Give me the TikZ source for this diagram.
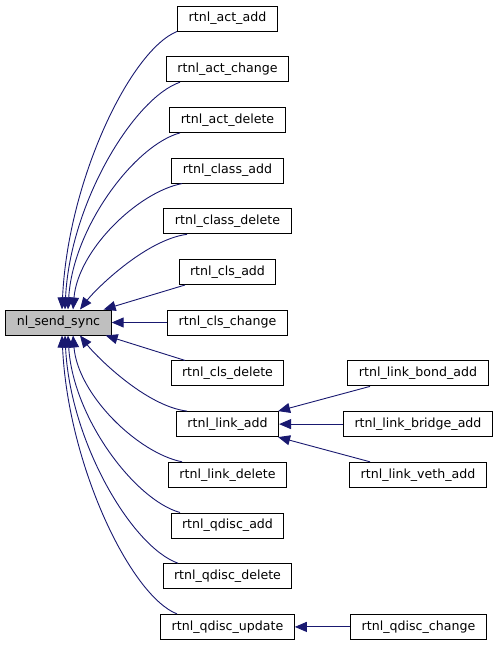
\documentclass[tikz,border=0pt]{standalone}
\usepackage{fontspec}
\setmainfont{DejaVu Sans}
\usetikzlibrary{arrows.meta}
\definecolor{edgeblue}{HTML}{191970}
\definecolor{maingrey}{HTML}{BFBFBF}
\begin{document}
\begin{tikzpicture}[x=1pt,y=-1pt,
  fn/.style={draw=black,line width=1pt,fill=white,inner xsep=11pt,inner ysep=0pt,
    minimum height=25pt,font=\fontsize{12.6}{15}\selectfont},
  edge/.style={draw=edgeblue,line width=0.9pt,
    {Triangle[length=12pt,width=10pt]}-}]
\useasboundingbox (0,0) rectangle (499,645);
\node[fn,fill=maingrey] (main) at (58.5,322.5) {nl\_send\_sync};
\node[fn] (a1) at (227.5,18.5) {rtnl\_act\_add};
\node[fn] (a2) at (227.5,69.2) {rtnl\_act\_change};
\node[fn] (a3) at (227.5,119.9) {rtnl\_act\_delete};
\node[fn] (a4) at (227.5,170.6) {rtnl\_class\_add};
\node[fn] (a5) at (227.5,221.3) {rtnl\_class\_delete};
\node[fn] (a6) at (227.5,272) {rtnl\_cls\_add};
\node[fn] (a7) at (227.5,322.5) {rtnl\_cls\_change};
\node[fn] (a8) at (227.5,373.4) {rtnl\_cls\_delete};
\node[fn] (a9) at (227.5,424.1) {rtnl\_link\_add};
\node[fn] (a10) at (227.5,474.8) {rtnl\_link\_delete};
\node[fn] (a11) at (227.5,525.5) {rtnl\_qdisc\_add};
\node[fn] (a12) at (227.5,576.2) {rtnl\_qdisc\_delete};
\node[fn] (a13) at (227.5,626.9) {rtnl\_qdisc\_update};
\node[fn] (b1) at (418,373.4) {rtnl\_link\_bond\_add};
\node[fn] (b2) at (418,424.1) {rtnl\_link\_bridge\_add};
\node[fn] (b3) at (418,474.8) {rtnl\_link\_veth\_add};
\node[fn] (b4) at (418.5,626.9) {rtnl\_qdisc\_change};
% upper edges
\draw[edge] ([xshift=3.5pt]main.north) .. controls (68,179) and (131,50) .. ([xshift=-50.5pt]a1.south);
\draw[edge] ([xshift=6.5pt]main.north) .. controls (70,203) and (134,98) .. ([xshift=-47.5pt]a2.south);
\draw[edge] ([xshift=9.5pt]main.north) .. controls (73,227) and (135,145) .. ([xshift=-47.5pt]a3.south);
\draw[edge] ([xshift=14.5pt]main.north) .. controls (78,250) and (138,192) .. ([xshift=-45.5pt]a4.south);
\draw[edge] ([xshift=21.5pt]main.north) .. controls (95,290) and (145,240) .. ([xshift=-40.5pt]a5.south);
\draw[edge] ([xshift=-8pt]main.north east) -- ([xshift=-42.5pt]a6.south);
\draw[edge] (main.east) -- (a7.west);
\draw[edge] ([xshift=-6pt]main.south east) -- ([xshift=-42.5pt]a8.north);
% lower edges
\draw[edge] ([xshift=21.5pt]main.south) .. controls (95,355) and (145,406) .. ([xshift=-40.5pt]a9.north);
\draw[edge] ([xshift=14.5pt]main.south) .. controls (78,395) and (138,453) .. ([xshift=-45.5pt]a10.north);
\draw[edge] ([xshift=9.5pt]main.south) .. controls (73,418) and (135,500) .. ([xshift=-47.5pt]a11.north);
\draw[edge] ([xshift=6.5pt]main.south) .. controls (70,442) and (132,547) .. ([xshift=-49.5pt]a12.north);
\draw[edge] ([xshift=3.5pt]main.south) .. controls (68,466) and (131,596) .. ([xshift=-50.5pt]a13.north);
% third column
\draw[edge] ([xshift=-1pt]a9.north east) -- ([xshift=-48pt]b1.south);
\draw[edge] (a9.east) -- (b2.west);
\draw[edge] ([xshift=-1pt]a9.south east) -- ([xshift=-48pt]b3.north);
\draw[edge] (a13.east) -- (b4.west);
\end{tikzpicture}
\end{document}
